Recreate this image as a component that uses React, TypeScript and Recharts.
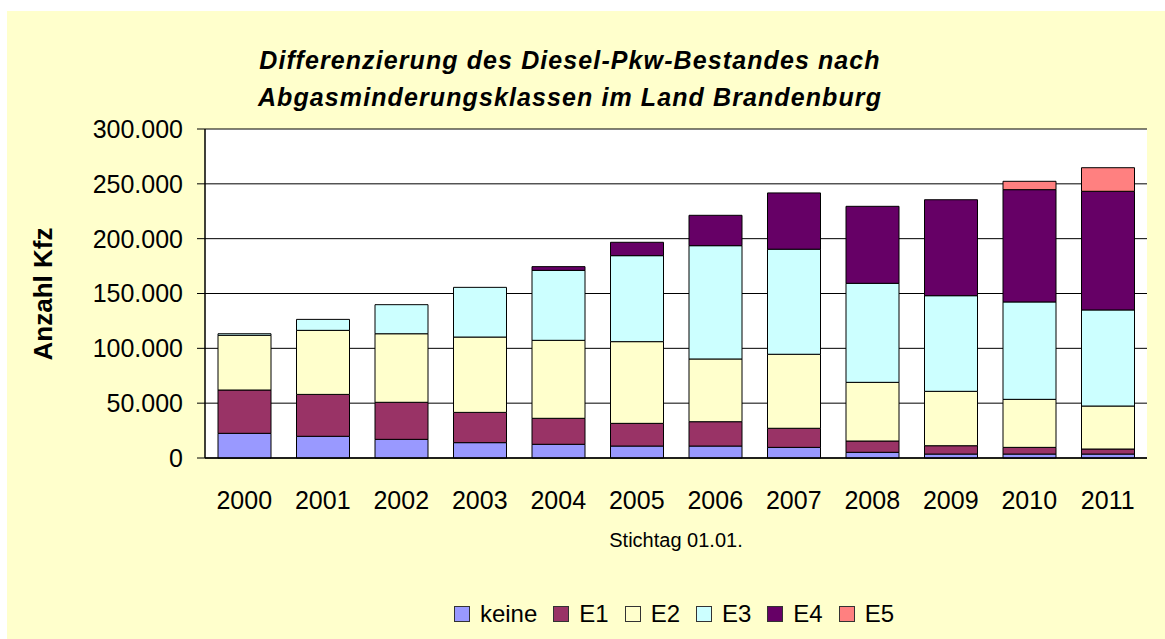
import React from 'react';
import { BarChart, Bar, XAxis, YAxis, CartesianGrid, Legend, Label } from 'recharts';

const years = ['2000', '2001', '2002', '2003', '2004', '2005', '2006', '2007', '2008', '2009', '2010', '2011'];
const keine = [22500, 19800, 17000, 14000, 12500, 10900, 10900, 9700, 5200, 3600, 3600, 3600];
const e1 = [39500, 38200, 33800, 27600, 23700, 20700, 22200, 17400, 10300, 7600, 6100, 4600];
const e2 = [49900, 58400, 62500, 68700, 71100, 74500, 57200, 67500, 53500, 49600, 43800, 39200];
const e3 = [1400, 10000, 26500, 45300, 63800, 78400, 103300, 95800, 90300, 87200, 88800, 87600];
const e4 = [0, 0, 0, 0, 3400, 12200, 27700, 51300, 70200, 87500, 102400, 108200];
const e5 = [0, 0, 0, 0, 0, 0, 0, 0, 0, 0, 7600, 21500];
const yTicks = [0, 50000, 100000, 150000, 200000, 250000, 300000];

const seriesNames = ['keine', 'E1', 'E2', 'E3', 'E4', 'E5'];
const seriesColors = ['#9999FF', '#993366', '#FFFFCC', '#CCFFFF', '#660066', '#FF8080'];
const seriesValues = [keine, e1, e2, e3, e4, e5];

const data = years.map((y, i) => {
  const row: Record<string, string | number> = { year: y };
  seriesNames.forEach((n, k) => {
    row[n] = seriesValues[k][i];
  });
  return row;
});

const FONT = '"Liberation Sans", Arial, sans-serif';

const fmt = (v: number) => String(v).replace(/\B(?=(\d{3})+(?!\d))/g, '.');

const LegendContent = (props: any) => {
  const payload = [...(props.payload || [])].sort(
    (a: any, b: any) => seriesNames.indexOf(a.value) - seriesNames.indexOf(b.value)
  );
  return (
    <div style={{ display: 'flex', justifyContent: 'center', alignItems: 'center', height: 40, paddingLeft: 194, boxSizing: 'border-box', fontFamily: FONT, fontSize: 24, color: '#000' }}>
      {payload.map((p: any, i: number) => (
        <div key={i} style={{ display: 'flex', alignItems: 'center', marginRight: i < payload.length - 1 ? 16 : 0 }}>
          <div style={{ width: 14, height: 14, background: p.color, border: '1px solid #333', marginRight: 10 }} />
          <span>{p.value}</span>
        </div>
      ))}
    </div>
  );
};

export default function App() {
  return (
    <div style={{ position: 'absolute', left: 7, top: 11, width: 1158, height: 628, background: '#FFFFCC', fontFamily: FONT }}>
      <div style={{ position: 'absolute', left: 0, top: 31, width: 1126, textAlign: 'center', fontSize: 25, lineHeight: '37px', fontWeight: 'bold', fontStyle: 'italic', letterSpacing: 1.1, color: '#000', zIndex: 2 }}>
        <div>Differenzierung des Diesel-Pkw-Bestandes nach</div>
        <div>Abgasminderungsklassen im Land Brandenburg</div>
      </div>
      <BarChart
        width={1158}
        height={628}
        data={data}
        margin={{ top: 118, right: 18, left: 0, bottom: 5 }}
        barSize={53}
      >
        <CartesianGrid vertical={false} stroke="#000" fill="#FFFFFF" strokeWidth={1} />
        <XAxis
          dataKey="year"
          height={136}
          tickLine={false}
          tickMargin={27}
          axisLine={{ stroke: '#000', strokeWidth: 1.5 }}
          tick={{ fill: '#000', fontSize: 25, fontFamily: FONT }}
          interval={0}
        >
          <Label value="Stichtag 01.01." position="insideBottom" offset={47} style={{ fill: '#000', fontSize: 20, fontFamily: FONT }} />
        </XAxis>
        <YAxis
          width={198}
          domain={[0, 300000]}
          ticks={yTicks}
          tickFormatter={fmt}
          tickSize={8}
          tickMargin={14}
          interval={0}
          axisLine={{ stroke: '#000', strokeWidth: 1.5 }}
          tickLine={{ stroke: '#000' }}
          tick={{ fill: '#000', fontSize: 25, fontFamily: FONT }}
          label={{
            content: () => (
              <text x={36} y={283} transform="rotate(-90 36 283)" textAnchor="middle" dominantBaseline="central" style={{ fontSize: 26, fontWeight: 'bold', fontFamily: FONT, fill: '#000' }}>
                Anzahl Kfz
              </text>
            ),
          }}
        />
        <YAxis yAxisId="r" orientation="right" width={0} domain={[0, 300000]} tick={false} tickLine={false} axisLine={{ stroke: '#000', strokeWidth: 1.5 }} />
        <Legend verticalAlign="bottom" align="center" height={40} content={<LegendContent />} />
        {seriesNames.map((n, k) => (
          <Bar key={n} dataKey={n} name={n} stackId="a" fill={seriesColors[k]} stroke="#000" strokeWidth={1} isAnimationActive={false} />
        ))}
      </BarChart>
    </div>
  );
}
